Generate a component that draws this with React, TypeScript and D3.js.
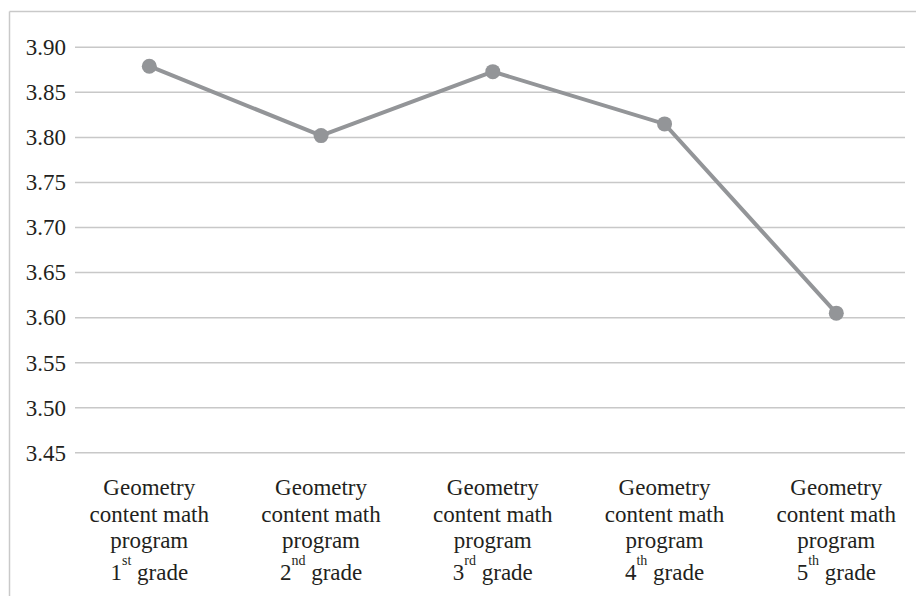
import React, { useEffect, useRef } from "react";
import * as d3 from "d3";

const categories = ["1", "2", "3", "4", "5"];
const suffixes = ["st", "nd", "rd", "th", "th"];
const labelLines = ["Geometry", "content math", "program"];
const values = [3.879, 3.802, 3.873, 3.815, 3.605];
const yTicks = [3.45, 3.5, 3.55, 3.6, 3.65, 3.7, 3.75, 3.8, 3.85, 3.9];

const W = 916;
const H = 596;
const FONT = "Liberation Serif";

export default function App() {
  const ref = useRef<SVGSVGElement | null>(null);
  useEffect(() => {
    const svg = d3.select(ref.current);
    svg.selectAll("*").remove();
    const x = d3.scalePoint<string>().domain(categories).range([149.3, 836.3]);
    const y = d3.scaleLinear().domain([3.45, 3.9]).range([452.8, 47.3]);
    const lineColor = "#939598";
    svg.append("rect").attr("width", W).attr("height", H).attr("fill", "#fff");
    svg.append("line").attr("x1", 9.5).attr("y1", 11.5).attr("x2", W + 2).attr("y2", 11.5)
      .attr("stroke", "#c9c9c9").attr("stroke-width", 1.5);
    svg.append("line").attr("x1", 9.5).attr("y1", 11.5).attr("x2", 9.5).attr("y2", H + 2)
      .attr("stroke", "#c9c9c9").attr("stroke-width", 1.5);
    const g = svg.append("g").selectAll("g").data(yTicks).join("g");
    g.append("line").attr("x1", 75).attr("x2", 905)
      .attr("y1", (d) => y(d)).attr("y2", (d) => y(d))
      .attr("stroke", "#c8c8c8").attr("stroke-width", 1.5);
    g.append("text").attr("x", 66).attr("y", (d) => y(d)).attr("dy", "0.34em")
      .attr("text-anchor", "end").attr("font-family", FONT).attr("font-size", 23)
      .attr("fill", "#231f20").text((d) => d.toFixed(2));
    const line = d3.line<number>().x((_, i) => x(categories[i]) as number).y((d) => y(d));
    svg.append("path").attr("d", line(values) || "").attr("fill", "none")
      .attr("stroke", lineColor).attr("stroke-width", 4);
    svg.selectAll("circle.pt").data(values).join("circle").attr("class", "pt")
      .attr("cx", (_, i) => x(categories[i]) as number).attr("cy", (d) => y(d))
      .attr("r", 7.5).attr("fill", lineColor);
    categories.forEach((c, i) => {
      const cx = x(c) as number;
      labelLines.forEach((l, j) => {
        svg.append("text").attr("x", cx).attr("y", 495 + j * 26.5)
          .attr("text-anchor", "middle").attr("font-family", FONT).attr("font-size", 23)
          .attr("fill", "#231f20").text(l);
      });
      const t = svg.append("text").attr("x", cx).attr("y", 580)
        .attr("text-anchor", "middle").attr("font-family", FONT).attr("font-size", 23)
        .attr("fill", "#231f20");
      t.append("tspan").text(c);
      t.append("tspan").attr("font-size", 14).attr("dy", -15).text(suffixes[i]);
      t.append("tspan").attr("dy", 15).text(" grade");
    });
  }, []);
  return (
    <svg
      ref={ref}
      width={W}
      height={H}
      style={{ position: "absolute", left: 0, top: 0, background: "#fff" }}
    />
  );
}
